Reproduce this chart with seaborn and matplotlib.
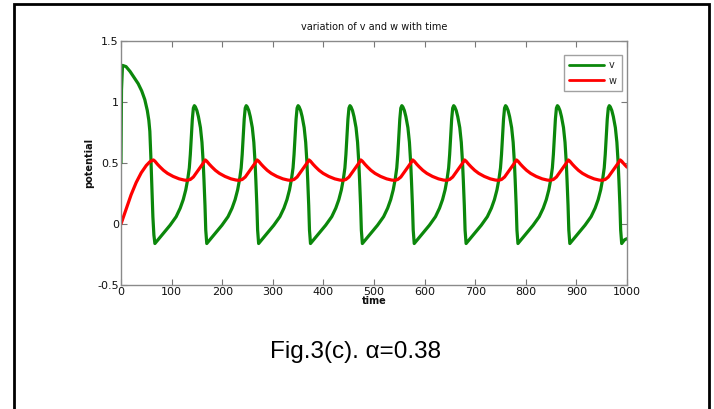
import matplotlib
matplotlib.use("Agg")
import matplotlib.pyplot as plt
import seaborn as sns
import pandas as pd
from matplotlib.patches import Rectangle

# ---- data ----
v_time = [0, 1, 3, 10, 18, 26, 34, 41, 47, 52, 55, 57, 59, 61, 63, 65,
          67, 75, 85, 97, 109, 117, 123, 128, 132, 135, 137, 139, 141, 143, 145, 147, 150, 153, 157, 160, 162.5, 164, 166, 167.5,
          169.5, 177.5, 187.5, 199.5, 211.5, 219.5, 225.5, 230.5, 234.5, 237.5, 239.5, 241.5, 243.5, 245.5, 247.5, 249.5, 252.5, 255.5, 259.5, 262.5, 265, 266.5, 268.5, 270,
          272, 280, 290, 302, 314, 322, 328, 333, 337, 340, 342, 344, 346, 348, 350, 352, 355, 358, 362, 365, 367.5, 369, 371, 372.5,
          374.5, 382.5, 392.5, 404.5, 416.5, 424.5, 430.5, 435.5, 439.5, 442.5, 444.5, 446.5, 448.5, 450.5, 452.5, 454.5, 457.5, 460.5, 464.5, 467.5, 470, 471.5, 473.5, 475,
          477, 485, 495, 507, 519, 527, 533, 538, 542, 545, 547, 549, 551, 553, 555, 557, 560, 563, 567, 570, 572.5, 574, 576, 577.5,
          579.5, 587.5, 597.5, 609.5, 621.5, 629.5, 635.5, 640.5, 644.5, 647.5, 649.5, 651.5, 653.5, 655.5, 657.5, 659.5, 662.5, 665.5, 669.5, 672.5, 675, 676.5, 678.5, 680,
          682, 690, 700, 712, 724, 732, 738, 743, 747, 750, 752, 754, 756, 758, 760, 762, 765, 768, 772, 775, 777.5, 779, 781, 782.5,
          784.5, 792.5, 802.5, 814.5, 826.5, 834.5, 840.5, 845.5, 849.5, 852.5, 854.5, 856.5, 858.5, 860.5, 862.5, 864.5, 867.5, 870.5, 874.5, 877.5, 880, 881.5, 883.5, 885,
          887, 895, 905, 917, 929, 937, 943, 948, 952, 955, 957, 959, 961, 963, 965, 967, 970, 973, 977, 980, 982.5, 984, 986, 987.5,
          989.5, 995, 1000]
v_values = [0.5, 1.1, 1.30, 1.29, 1.25, 1.20, 1.15, 1.09, 1.02, 0.93, 0.85, 0.76, 0.55, 0.30, 0.06, -0.09,
            -0.16, -0.12, -0.07, -0.01, 0.06, 0.13, 0.20, 0.28, 0.37, 0.46, 0.57, 0.72, 0.86, 0.95, 0.97, 0.96, 0.93, 0.88, 0.79, 0.67, 0.50, 0.36, 0.15, -0.05,
            -0.16, -0.12, -0.07, -0.01, 0.06, 0.13, 0.20, 0.28, 0.37, 0.46, 0.57, 0.72, 0.86, 0.95, 0.97, 0.96, 0.93, 0.88, 0.79, 0.67, 0.50, 0.36, 0.15, -0.05,
            -0.16, -0.12, -0.07, -0.01, 0.06, 0.13, 0.20, 0.28, 0.37, 0.46, 0.57, 0.72, 0.86, 0.95, 0.97, 0.96, 0.93, 0.88, 0.79, 0.67, 0.50, 0.36, 0.15, -0.05,
            -0.16, -0.12, -0.07, -0.01, 0.06, 0.13, 0.20, 0.28, 0.37, 0.46, 0.57, 0.72, 0.86, 0.95, 0.97, 0.96, 0.93, 0.88, 0.79, 0.67, 0.50, 0.36, 0.15, -0.05,
            -0.16, -0.12, -0.07, -0.01, 0.06, 0.13, 0.20, 0.28, 0.37, 0.46, 0.57, 0.72, 0.86, 0.95, 0.97, 0.96, 0.93, 0.88, 0.79, 0.67, 0.50, 0.36, 0.15, -0.05,
            -0.16, -0.12, -0.07, -0.01, 0.06, 0.13, 0.20, 0.28, 0.37, 0.46, 0.57, 0.72, 0.86, 0.95, 0.97, 0.96, 0.93, 0.88, 0.79, 0.67, 0.50, 0.36, 0.15, -0.05,
            -0.16, -0.12, -0.07, -0.01, 0.06, 0.13, 0.20, 0.28, 0.37, 0.46, 0.57, 0.72, 0.86, 0.95, 0.97, 0.96, 0.93, 0.88, 0.79, 0.67, 0.50, 0.36, 0.15, -0.05,
            -0.16, -0.12, -0.07, -0.01, 0.06, 0.13, 0.20, 0.28, 0.37, 0.46, 0.57, 0.72, 0.86, 0.95, 0.97, 0.96, 0.93, 0.88, 0.79, 0.67, 0.50, 0.36, 0.15, -0.05,
            -0.16, -0.12, -0.07, -0.01, 0.06, 0.13, 0.20, 0.28, 0.37, 0.46, 0.57, 0.72, 0.86, 0.95, 0.97, 0.96, 0.93, 0.88, 0.79, 0.67, 0.50, 0.36, 0.15, -0.05,
            -0.16, -0.13, -0.12]

w_time = [0, 5, 10, 20, 30, 40, 50, 57, 64,
          67, 72, 77, 84, 92, 103, 115, 125, 131, 137, 143, 149, 155, 161, 166.5,
          169.5, 174.5, 179.5, 186.5, 194.5, 205.5, 217.5, 227.5, 233.5, 239.5, 245.5, 251.5, 257.5, 263.5, 269,
          272, 277, 282, 289, 297, 308, 320, 330, 336, 342, 348, 354, 360, 366, 371.5,
          374.5, 379.5, 384.5, 391.5, 399.5, 410.5, 422.5, 432.5, 438.5, 444.5, 450.5, 456.5, 462.5, 468.5, 474,
          477, 482, 487, 494, 502, 513, 525, 535, 541, 547, 553, 559, 565, 571, 576.5,
          579.5, 584.5, 589.5, 596.5, 604.5, 615.5, 627.5, 637.5, 643.5, 649.5, 655.5, 661.5, 667.5, 673.5, 679,
          682, 687, 692, 699, 707, 718, 730, 740, 746, 752, 758, 764, 770, 776, 781.5,
          784.5, 789.5, 794.5, 801.5, 809.5, 820.5, 832.5, 842.5, 848.5, 854.5, 860.5, 866.5, 872.5, 878.5, 884,
          887, 892, 897, 904, 912, 923, 935, 945, 951, 957, 963, 969, 975, 981, 986.5,
          989.5, 994.5, 1000]
w_values = [0.0, 0.06, 0.12, 0.24, 0.34, 0.42, 0.48, 0.51, 0.525,
            0.515, 0.49, 0.468, 0.44, 0.415, 0.39, 0.37, 0.36, 0.358, 0.365, 0.385, 0.42, 0.455, 0.49, 0.525,
            0.515, 0.49, 0.468, 0.44, 0.415, 0.39, 0.37, 0.36, 0.358, 0.365, 0.385, 0.42, 0.455, 0.49, 0.525,
            0.515, 0.49, 0.468, 0.44, 0.415, 0.39, 0.37, 0.36, 0.358, 0.365, 0.385, 0.42, 0.455, 0.49, 0.525,
            0.515, 0.49, 0.468, 0.44, 0.415, 0.39, 0.37, 0.36, 0.358, 0.365, 0.385, 0.42, 0.455, 0.49, 0.525,
            0.515, 0.49, 0.468, 0.44, 0.415, 0.39, 0.37, 0.36, 0.358, 0.365, 0.385, 0.42, 0.455, 0.49, 0.525,
            0.515, 0.49, 0.468, 0.44, 0.415, 0.39, 0.37, 0.36, 0.358, 0.365, 0.385, 0.42, 0.455, 0.49, 0.525,
            0.515, 0.49, 0.468, 0.44, 0.415, 0.39, 0.37, 0.36, 0.358, 0.365, 0.385, 0.42, 0.455, 0.49, 0.525,
            0.515, 0.49, 0.468, 0.44, 0.415, 0.39, 0.37, 0.36, 0.358, 0.365, 0.385, 0.42, 0.455, 0.49, 0.525,
            0.515, 0.49, 0.468, 0.44, 0.415, 0.39, 0.37, 0.36, 0.358, 0.365, 0.385, 0.42, 0.455, 0.49, 0.525,
            0.515, 0.49, 0.466]

x_ticks = [0, 100, 200, 300, 400, 500, 600, 700, 800, 900, 1000]
y_ticks = [-0.5, 0, 0.5, 1, 1.5]
y_tick_labels = ["-0.5", "0", "0.5", "1", "1.5"]
series_names = ["v", "w"]
series_colors = {"v": "#0b870b", "w": "#ff0000"}

df = pd.concat([
    pd.DataFrame({"time": v_time, "potential": v_values, "series": "v"}),
    pd.DataFrame({"time": w_time, "potential": w_values, "series": "w"}),
], ignore_index=True)

sns.set_theme(style="white")
plt.rcParams['font.family'] = ['DejaVu Sans']

fig = plt.figure(figsize=(7.14, 4.09), dpi=100)
ax = fig.add_axes([121/714, 1-285/409, (627-121)/714, (285-41)/409])

sns.lineplot(data=df, x="time", y="potential", hue="series", hue_order=series_names,
             palette=series_colors, sort=False, estimator=None, linewidth=2.3, ax=ax)

ax.set_xlim(0, 1000)
ax.set_ylim(-0.5, 1.5)
ax.set_xticks(x_ticks)
ax.set_xticklabels([str(t) for t in x_ticks])
ax.set_yticks(y_ticks)
ax.set_yticklabels(y_tick_labels)
ax.tick_params(direction="in", length=4, width=0.8, color="#777777",
               top=True, right=True, bottom=True, left=True,
               labelsize=8, pad=1.5, labelcolor="#111111")
for sp in ax.spines.values():
    sp.set_color("#8a8a8a")
    sp.set_linewidth(1.0)

ax.set_xlabel("time", fontsize=7, fontweight="bold", labelpad=-1, color="#111111")
ax.set_ylabel("potential", fontsize=7, fontweight="bold", labelpad=2, color="#111111")
ax.set_title("variation of v and w with time", fontsize=7, pad=8, color="#111111")

leg = ax.legend(loc="upper right", bbox_to_anchor=(0.993, 0.95), fontsize=7,
                frameon=True, fancybox=False, handlelength=3.6, borderpad=0.5,
                labelspacing=0.6, handletextpad=0.5, borderaxespad=0.2)
leg.get_frame().set_edgecolor("#8a8a8a")
leg.get_frame().set_linewidth(1.0)
for line in leg.get_lines():
    line.set_linewidth(2.0)

fig.text(356/714, 1-352/409, "Fig.3(c). \u03b1=0.38", ha="center", va="center",
         fontsize=17.5, family=["Liberation Sans", "DejaVu Sans"], color="black")

fig.patches.append(Rectangle((14/714, -0.05), (709-14)/714, (1-4/409)+0.05,
                             transform=fig.transFigure, fill=False,
                             edgecolor="black", linewidth=2.0))

fig.savefig("out.png", dpi=100, facecolor="white")
